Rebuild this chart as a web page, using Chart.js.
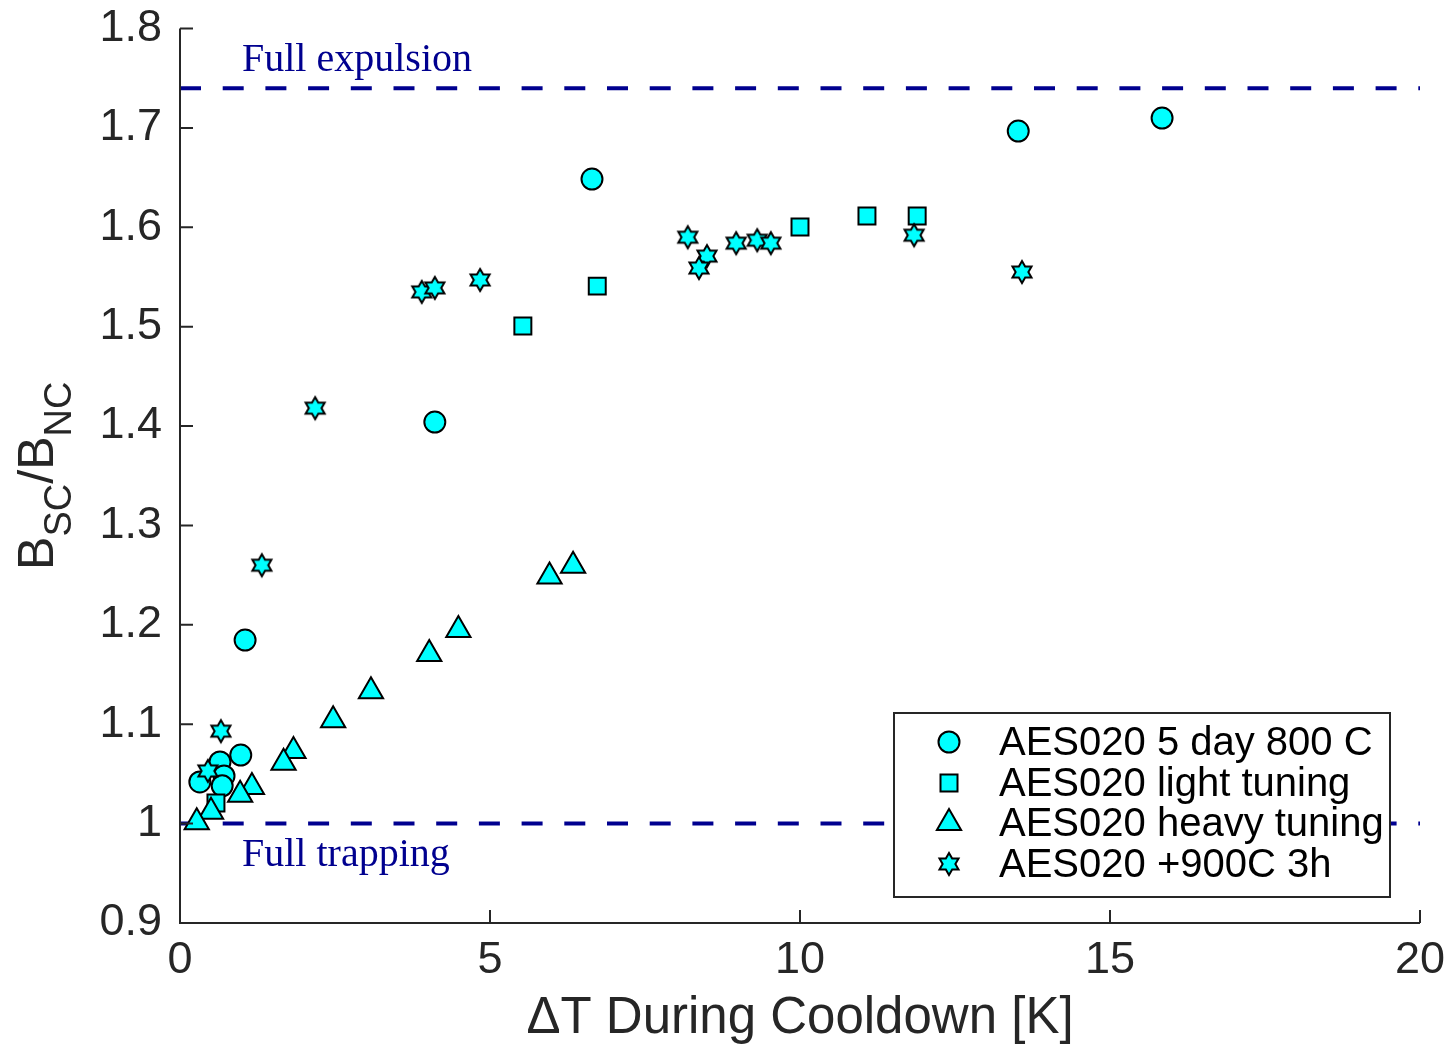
<!DOCTYPE html>
<html><head><meta charset="utf-8">
<script src="https://cdn.jsdelivr.net/npm/chart.js@4.4.1/dist/chart.umd.min.js"></script>
<style>html,body{margin:0;padding:0;background:#fff}canvas{display:block}</style>
</head><body>
<canvas id="c" width="1454" height="1045"></canvas>
<script>
// ---- data ----
const xTicks = [0, 5, 10, 15, 20];
const yTicks = [0.9, 1.0, 1.1, 1.2, 1.3, 1.4, 1.5, 1.6, 1.7, 1.8];
const seriesNames = ['AES020 5 day 800 C', 'AES020 light tuning', 'AES020 heavy tuning', 'AES020 +900C 3h'];

const day5X = [6.645, 13.52, 15.84, 4.11, 1.05, 0.32, 0.645, 0.98, 0.71, 0.68];
const day5Y = [1.6485, 1.6968, 1.7099, 1.404, 1.1847, 1.0419, 1.062, 1.069, 1.048, 1.038];

const lightX = [5.53, 6.73, 10.0, 11.08, 11.89, 0.58];
const lightY = [1.5006, 1.5408, 1.6002, 1.6113, 1.6113, 1.0207];

const heavyX = [6.34, 5.96, 4.49, 4.02, 3.08, 2.47, 1.83, 1.67, 1.16, 0.97, 0.50, 0.27];
const heavyY = [1.2595, 1.2487, 1.1948, 1.1706, 1.1331, 1.1039, 1.073, 1.0613, 1.0368, 1.0291, 1.012, 1.0013];

const h900X = [2.18, 1.32, 0.66, 0.45, 3.90, 4.11, 4.84, 8.19, 8.50, 8.37, 8.97, 9.31, 9.53, 11.84, 13.58];
const h900Y = [1.418, 1.260, 1.093, 1.053, 1.535, 1.539, 1.547, 1.590, 1.571, 1.559, 1.584, 1.587, 1.584, 1.592, 1.555];

const expulsionLevel = 1.74;
const trappingLevel = 1.0;
const refLabels = ['Full expulsion', 'Full trapping'];
const xTitle = '\u0394T During Cooldown [K]';

// ---- helpers ----
const pts = (xs, ys) => xs.map((x, i) => ({x, y: ys[i]}));
const CYAN = '#00ffff', NAVY = '#00008f', AXIS = '#262626';
const TARGET = {left: 180, top: 28.5, right: 1420, bottom: 923};

function hexPath(g, cx, cy, R) {
  const r = R / Math.sqrt(3);
  g.beginPath();
  for (let i = 0; i < 12; i++) {
    const a = -Math.PI / 2 + i * Math.PI / 6;
    const rr = i % 2 === 0 ? R : r;
    const px = cx + rr * Math.cos(a), py = cy + rr * Math.sin(a);
    i ? g.lineTo(px, py) : g.moveTo(px, py);
  }
  g.closePath();
}
function makeStar(R, lw) {
  const s = Math.ceil(2 * R + lw * 2 + 4);
  const c = document.createElement('canvas'); c.width = s; c.height = s;
  const g = c.getContext('2d');
  hexPath(g, s / 2, s / 2, R);
  g.fillStyle = CYAN; g.fill();
  g.lineWidth = lw; g.strokeStyle = '#000'; g.lineJoin = 'miter'; g.stroke();
  return c;
}
const starImg = makeStar(11, 2);

const levelLine = (v) => ({
  type: 'scatter', data: [{x: xTicks[0], y: v}, {x: xTicks[xTicks.length - 1], y: v}],
  showLine: true, pointRadius: 0, borderColor: NAVY, borderWidth: 4,
  borderDash: [21, 21.7], order: 10, fill: false
});

const overlay = {
  id: 'overlay',
  afterDraw(chart) {
    const g = chart.ctx, xs = chart.scales.x, ys = chart.scales.y, ca = chart.chartArea;
    g.save();
    // axes
    g.strokeStyle = AXIS; g.lineWidth = 2; g.lineCap = 'butt';
    g.beginPath();
    g.moveTo(ca.left, ys.getPixelForValue(yTicks[yTicks.length - 1]));
    g.lineTo(ca.left, ca.bottom); g.lineTo(xs.getPixelForValue(xTicks[xTicks.length - 1]), ca.bottom);
    g.stroke();
    g.beginPath();
    yTicks.forEach(v => { const p = ys.getPixelForValue(v); g.moveTo(ca.left, p); g.lineTo(ca.left + 13, p); });
    xTicks.forEach(v => { const p = xs.getPixelForValue(v); g.moveTo(p, ca.bottom); g.lineTo(p, ca.bottom - 13); });
    g.stroke();

    // reference labels
    g.fillStyle = NAVY; g.font = '40px "Liberation Serif", "Times New Roman", serif';
    g.textAlign = 'left'; g.textBaseline = 'alphabetic';
    g.fillText(refLabels[0], xs.getPixelForValue(1.0), ys.getPixelForValue(expulsionLevel) - 17);
    g.fillText(refLabels[1], xs.getPixelForValue(1.0), ys.getPixelForValue(trappingLevel) + 42);

    // x title
    g.fillStyle = AXIS; g.font = '51px "Liberation Sans", Arial, sans-serif';
    g.textAlign = 'center';
    g.fillText(xTitle, (ca.left + ca.right) / 2, 1033);

    // y title with subscripts
    const big = '50px "Liberation Sans", Arial, sans-serif', small = '38px "Liberation Sans", Arial, sans-serif';
    const parts = [['B', big, 0], ['SC', small, 18], ['/B', big, 0], ['NC', small, 18]];
    let total = 0;
    parts.forEach(p => { g.font = p[1]; total += g.measureText(p[0]).width; });
    g.translate(53, (ca.top + ca.bottom) / 2 + total / 2);
    g.rotate(-Math.PI / 2);
    g.textAlign = 'left';
    let xx = 0;
    parts.forEach(p => { g.font = p[1]; g.fillText(p[0], xx, p[2]); xx += g.measureText(p[0]).width; });
    g.setTransform(1, 0, 0, 1, 0, 0);

    // legend
    const bx = 894, by = 713, bw = 496, bh = 184;
    g.fillStyle = '#fff'; g.fillRect(bx, by, bw, bh);
    g.strokeStyle = AXIS; g.lineWidth = 2; g.strokeRect(bx, by, bw, bh);
    const mx = 949, tx = 999, rows = [742, 783, 823, 864];
    g.font = '40px "Liberation Sans", Arial, sans-serif';
    g.textAlign = 'left'; g.textBaseline = 'middle';
    rows.forEach((ry, i) => {
      g.fillStyle = CYAN; g.strokeStyle = '#000'; g.lineWidth = 2;
      g.beginPath();
      if (i === 0) { g.arc(mx, ry, 10.5, 0, Math.PI * 2); }
      else if (i === 1) { g.rect(mx - 8.5, ry - 8.5, 17, 17); }
      else if (i === 2) {
        const R = 14;
        g.moveTo(mx, ry - R);
        g.lineTo(mx + R * Math.sin(2 * Math.PI / 3), ry - R * Math.cos(2 * Math.PI / 3));
        g.lineTo(mx + R * Math.sin(4 * Math.PI / 3), ry - R * Math.cos(4 * Math.PI / 3));
        g.closePath();
      }
      if (i < 3) { g.fill(); g.stroke(); }
      else { g.drawImage(starImg, mx - starImg.width / 2, ry - starImg.height / 2); }
      g.fillStyle = '#000';
      g.fillText(seriesNames[i], tx, ry + 2);
    });
    g.restore();
  }
};

const tickFont = {family: '"Liberation Sans", Arial, sans-serif', size: 45};

const chart = new Chart(document.getElementById('c'), {
  type: 'scatter',
  data: {
    datasets: [
      levelLine(expulsionLevel),
      levelLine(trappingLevel),
      {label: seriesNames[0], data: pts(day5X, day5Y), pointStyle: 'circle', pointRadius: 10.5,
       backgroundColor: CYAN, borderColor: '#000', borderWidth: 2, order: 4},
      {label: seriesNames[1], data: pts(lightX, lightY), pointStyle: 'rect', pointRadius: 12,
       backgroundColor: CYAN, borderColor: '#000', borderWidth: 2, order: 3},
      {label: seriesNames[2], data: pts(heavyX, heavyY), pointStyle: 'triangle', pointRadius: 14,
       backgroundColor: CYAN, borderColor: '#000', borderWidth: 2, order: 2},
      {label: seriesNames[3], data: pts(h900X, h900Y), pointStyle: starImg, pointRadius: 11,
       backgroundColor: CYAN, borderColor: '#000', borderWidth: 2, order: 1}
    ]
  },
  options: {
    responsive: false, animation: false, events: [],
    devicePixelRatio: 1,
    layout: {autoPadding: false, padding: {top: 28.5, right: 34, left: 0, bottom: 0}},
    plugins: {legend: {display: false}, tooltip: {enabled: false}},
    scales: {
      x: {
        type: 'linear', min: xTicks[0], max: xTicks[xTicks.length - 1],
        afterBuildTicks: s => { s.ticks = xTicks.map(v => ({value: v})); },
        afterFit: s => { s.height = 122; s.paddingLeft = 0; s.paddingRight = 0; },
        grid: {display: false, drawTicks: false}, border: {display: false},
        ticks: {font: tickFont, color: AXIS, padding: 11, maxRotation: 0, autoSkip: false,
                callback: v => String(v)}
      },
      y: {
        type: 'linear', min: yTicks[0], max: yTicks[yTicks.length - 1],
        afterBuildTicks: s => { s.ticks = yTicks.map(v => ({value: v})); },
        afterFit: s => { s.width = 180; s.paddingTop = 0; s.paddingBottom = 0; },
        grid: {display: false, drawTicks: false}, border: {display: false},
        ticks: {font: tickFont, color: AXIS, padding: 18, autoSkip: false,
                callback: v => String(Math.round(v * 10) / 10)}
      }
    }
  },
  plugins: [overlay]
});

// Nudge layout padding so the plot area lands where the reference has it.
for (let k = 0; k < 3; k++) {
  const ca = chart.chartArea, p = chart.config.options.layout.padding;
  const dt = ca.top - TARGET.top, dr = TARGET.right - ca.right, db = TARGET.bottom - ca.bottom, dl = ca.left - TARGET.left;
  if (Math.abs(dt) < 0.3 && Math.abs(dr) < 0.3 && Math.abs(db) < 0.3 && Math.abs(dl) < 0.3) break;
  p.top -= dt; p.right -= dr; p.bottom -= db; p.left -= dl;
  chart.update();
}
</script>
</body></html>
